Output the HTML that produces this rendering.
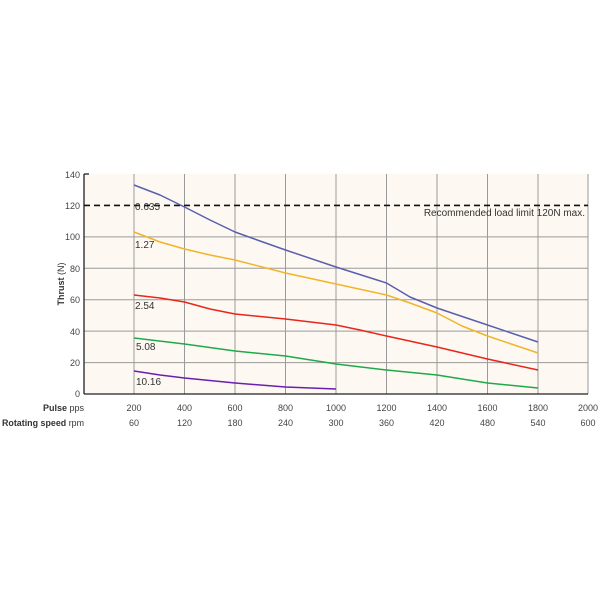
<!DOCTYPE html>
<html><head><meta charset="utf-8"><style>
body{margin:0;background:#fff;}
svg{display:block;font-family:"Liberation Sans",sans-serif;}
</style></head><body>
<svg width="600" height="600" viewBox="0 0 600 600">
<rect x="84" y="174" width="504" height="220" fill="#fdf8f2"/>
<g stroke="#9a9a9a" stroke-width="1">
<line x1="84" y1="236.9" x2="588" y2="236.9"/>
<line x1="84" y1="268.3" x2="588" y2="268.3"/>
<line x1="84" y1="299.7" x2="588" y2="299.7"/>
<line x1="84" y1="331.1" x2="588" y2="331.1"/>
<line x1="84" y1="362.6" x2="588" y2="362.6"/>
<line x1="134" y1="174" x2="134" y2="394"/>
<line x1="184.5" y1="174" x2="184.5" y2="394"/>
<line x1="235" y1="174" x2="235" y2="394"/>
<line x1="285.5" y1="174" x2="285.5" y2="394"/>
<line x1="336" y1="174" x2="336" y2="394"/>
<line x1="386.5" y1="174" x2="386.5" y2="394"/>
<line x1="437" y1="174" x2="437" y2="394"/>
<line x1="487.5" y1="174" x2="487.5" y2="394"/>
<line x1="538" y1="174" x2="538" y2="394"/>
<line x1="588" y1="174" x2="588" y2="394"/>
</g>
<g stroke="#222" stroke-width="1.3">
<line x1="84" y1="174" x2="84" y2="394"/>
<line x1="84" y1="394" x2="588" y2="394"/>
<line x1="84" y1="174" x2="89" y2="174"/>
</g>
<line x1="84" y1="205.4" x2="588" y2="205.4" stroke="#111" stroke-width="1.6" stroke-dasharray="6,4"/>
<g font-size="9" fill="#444" text-anchor="end">
<text x="80" y="178">140</text><text x="80" y="209">120</text><text x="80" y="240">100</text>
<text x="80" y="272">80</text><text x="80" y="303">60</text><text x="80" y="335">40</text>
<text x="80" y="366">20</text><text x="80" y="397">0</text>
</g>
<text transform="translate(64,284) rotate(-90)" font-size="9" fill="#333" text-anchor="middle"><tspan font-weight="bold">Thrust</tspan> (N)</text>
<g font-size="9" fill="#444" text-anchor="middle">
<text x="134" y="411">200</text><text x="184.5" y="411">400</text><text x="235" y="411">600</text>
<text x="285.5" y="411">800</text><text x="336" y="411">1000</text><text x="386.5" y="411">1200</text>
<text x="437" y="411">1400</text><text x="487.5" y="411">1600</text><text x="538" y="411">1800</text><text x="588" y="411">2000</text>
<text x="134" y="426">60</text><text x="184.5" y="426">120</text><text x="235" y="426">180</text>
<text x="285.5" y="426">240</text><text x="336" y="426">300</text><text x="386.5" y="426">360</text>
<text x="437" y="426">420</text><text x="487.5" y="426">480</text><text x="538" y="426">540</text><text x="588" y="426">600</text>
</g>
<text x="84" y="411" font-size="9" text-anchor="end" fill="#333"><tspan font-weight="bold">Pulse</tspan> pps</text>
<text x="84" y="426" font-size="9" text-anchor="end" fill="#333" textLength="82" lengthAdjust="spacingAndGlyphs"><tspan font-weight="bold">Rotating speed</tspan> rpm</text>
<g fill="none" stroke-width="1.5" stroke-linejoin="round">
<polyline stroke="#5a5fae" points="134,185 160,195 184.5,207 210,220 235,232 260,241 285.5,250 336,267 386.5,283 410,297 437,308 487.5,325 538,342"/>
<polyline stroke="#f0b429" points="134,232 160,242 184.5,249 210,255 235,260 285.5,273 336,284 386.5,295 410,303 437,313 462,326 487.5,336 538,353"/>
<polyline stroke="#e8261c" points="134,295 160,298 184.5,302 210,309 235,314 285.5,319 336,325 360,330 386.5,336 437,347 487.5,359 538,370"/>
<polyline stroke="#1faa4a" points="134,338 184.5,344 235,351 285.5,356 336,364 386.5,370 437,375 462,379 487.5,383 538,388"/>
<polyline stroke="#6a1fb0" points="134,371 160,375 184.5,378 235,383 285.5,387 336,389"/>
</g>
<g font-size="10" fill="#333">
<text x="135" y="210">0.635</text><text x="135" y="248">1.27</text><text x="135" y="309">2.54</text>
<text x="136" y="350">5.08</text><text x="136" y="385">10.16</text>
<text x="585" y="216" text-anchor="end">Recommended load limit 120N max.</text>
</g>
</svg>
</body></html>
